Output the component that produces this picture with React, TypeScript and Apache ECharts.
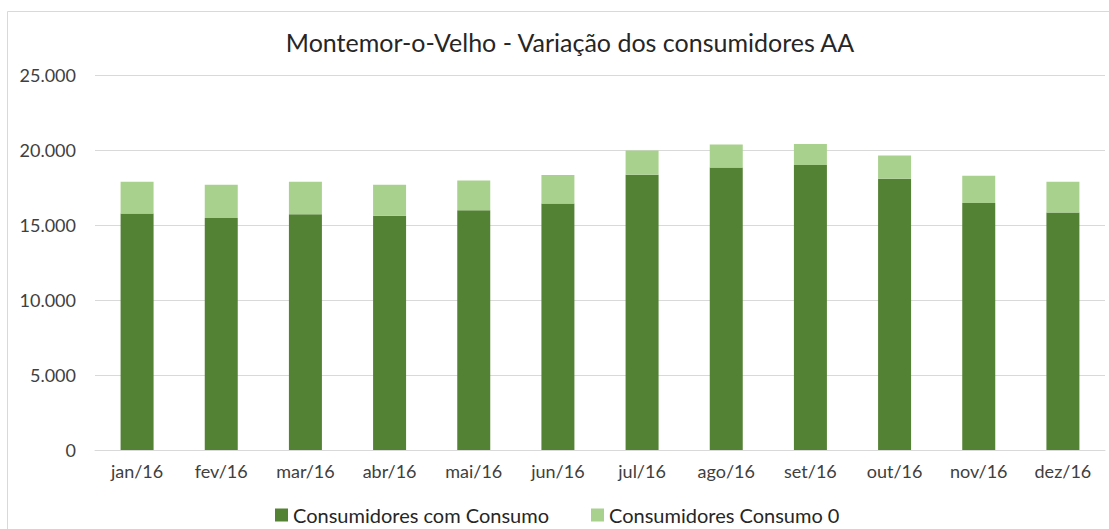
import React, { useEffect, useRef } from "react";
import * as echarts from "echarts";

const categories = ["jan/16", "fev/16", "mar/16", "abr/16", "mai/16", "jun/16", "jul/16", "ago/16", "set/16", "out/16", "nov/16", "dez/16"];
const comConsumo = [15760, 15470, 15710, 15620, 15980, 16430, 18350, 18840, 19000, 18080, 16470, 15830];
const consumoZero = [2120, 2210, 2170, 2060, 1990, 1900, 1610, 1520, 1400, 1560, 1810, 2050];
const seriesNames = ["Consumidores com Consumo", "Consumidores Consumo 0"];
const titleText = "Montemor-o-Velho - Variação dos consumidores AA";

const FONT = "Lato, 'Open Sans', sans-serif";

export default function App() {
  const ref = useRef<HTMLDivElement>(null);
  useEffect(() => {
    document.body.style.margin = "0";
    const chart = echarts.init(ref.current!, null, { renderer: "svg" });
    chart.setOption({
      animation: false,
      backgroundColor: "#ffffff",
      textStyle: { fontFamily: FONT },
      title: {
        text: titleText,
        left: 565,
        top: 24,
        textAlign: "center",
        textStyle: { fontFamily: FONT, fontSize: 25, fontWeight: "normal", color: "#262626" },
      },
      graphic: [
        {
          type: "rect",
          shape: { x: 7.5, y: 11.5, width: 1110, height: 530 },
          style: { fill: "none", stroke: "#d9d9d9", lineWidth: 1 },
          silent: true,
        },
      ],
      legend: {
        top: 500,
        left: 270,
        itemWidth: 13,
        itemHeight: 13,
        itemGap: 42,
        icon: "rect",
        textStyle: { fontFamily: FONT, fontSize: 20, color: "#262626" },
        data: seriesNames,
      },
      grid: { left: 95, right: 4, top: 75, bottom: 79, containLabel: false },
      xAxis: {
        type: "category",
        data: categories,
        axisLine: { show: true, lineStyle: { color: "#d9d9d9" } },
        axisTick: { show: false },
        axisLabel: { fontFamily: FONT, fontSize: 18, color: "#404040", margin: 12 },
      },
      yAxis: {
        type: "value",
        min: 0,
        max: 25000,
        interval: 5000,
        axisLine: { show: false },
        axisTick: { show: false },
        splitLine: { lineStyle: { color: "#d9d9d9" } },
        axisLabel: {
          fontFamily: FONT,
          fontSize: 18,
          color: "#404040",
          margin: 19,
          formatter: (v: number) => (v === 0 ? "0" : v.toLocaleString("de-DE")),
        },
      },
      series: [
        {
          name: seriesNames[0],
          type: "bar",
          stack: "total",
          barWidth: 33,
          data: comConsumo,
          itemStyle: { color: "#548235" },
        },
        {
          name: seriesNames[1],
          type: "bar",
          stack: "total",
          barWidth: 33,
          data: consumoZero,
          itemStyle: { color: "#a9d18e" },
        },
      ],
    });
    return () => chart.dispose();
  }, []);
  return <div ref={ref} style={{ width: 1109, height: 529 }} />;
}
